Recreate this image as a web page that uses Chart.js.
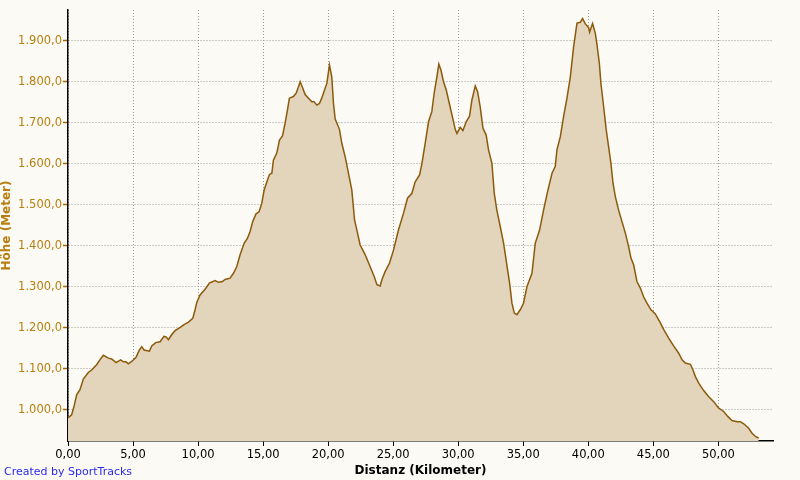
<!DOCTYPE html>
<html lang="de">
<head>
    <meta charset="UTF-8">
    <title>Höhenprofil</title>
    <script src="https://cdn.jsdelivr.net/npm/chart.js"></script>
    <style>
        html, body { margin: 0; padding: 0; background: #fbfaf5; }
        #myChart { display: block; }
    </style>
</head>
<body>
<canvas id="myChart" width="800" height="480"></canvas>
<script>
    // Distanz (km) / Höhe (m)
    const distanz = [
        0.0, 0.28, 0.46, 0.67, 0.92, 1.18, 1.56, 1.82, 2.2, 2.41, 2.72, 3.1, 3.36, 3.69, 4.05, 4.26, 4.46, 4.64, 4.9,
        5.23, 5.49, 5.67, 5.85, 6.26, 6.44, 6.74, 7.08, 7.38, 7.54, 7.72, 7.97, 8.23, 8.62, 8.92, 9.26, 9.59, 9.77, 9.9,
        10.15, 10.54, 10.87, 11.31, 11.56, 11.87, 12.08, 12.46, 12.72, 12.97, 13.23, 13.54, 13.79, 14.0, 14.2, 14.46, 14.69, 14.9,
        15.08, 15.33, 15.49, 15.67, 15.79, 16.05, 16.26, 16.49, 16.69, 16.87, 17.02, 17.33, 17.54, 17.72, 17.85, 18.05, 18.23,
        18.49, 18.74, 18.92, 19.13, 19.33, 19.51, 19.72, 19.9, 20.1, 20.28, 20.41, 20.54, 20.87, 21.05, 21.31, 21.56, 21.82,
        22.03, 22.26, 22.46, 22.85, 23.23, 23.54, 23.75, 24.0, 24.13, 24.38, 24.72, 25.03, 25.41, 25.79, 26.1, 26.44, 26.69,
        27.03, 27.21, 27.46, 27.72, 27.97, 28.15, 28.36, 28.51, 28.67, 28.87, 29.08, 29.26, 29.52, 29.77, 29.9, 30.15, 30.36,
        30.62, 30.87, 31.05, 31.31, 31.49, 31.69, 31.9, 32.15, 32.33, 32.59, 32.77, 32.97, 33.23, 33.49, 33.74, 33.95, 34.13,
        34.31, 34.51, 34.77, 35.02, 35.28, 35.67, 35.92, 36.26, 36.56, 36.87, 37.21, 37.46, 37.59, 37.85, 38.1, 38.36, 38.62,
        38.87, 39.13, 39.38, 39.56, 39.77, 40.03, 40.1, 40.33, 40.54, 40.67, 40.85, 40.97, 41.18, 41.38, 41.56, 41.74, 41.9,
        42.08, 42.33, 42.59, 42.85, 43.1, 43.28, 43.49, 43.74, 44.0, 44.26, 44.51, 44.82, 45.15, 45.49, 45.79, 46.18, 46.56,
        46.95, 47.21, 47.46, 47.85, 48.05, 48.23, 48.49, 48.87, 49.26, 49.64, 50.03, 50.41, 50.72, 51.05, 51.44, 51.69, 51.95,
        52.33, 52.59, 52.85, 53.1
    ];
    const hoehe = [
        980, 988, 1008, 1037, 1049, 1075, 1091, 1097, 1110, 1120, 1133, 1126, 1124, 1115, 1122, 1117, 1117, 1112, 1118,
        1128, 1146, 1154, 1146, 1143, 1156, 1164, 1166, 1179, 1178, 1171, 1183, 1193, 1201, 1208, 1214, 1223, 1244, 1262,
        1280, 1294, 1309, 1315, 1311, 1313, 1318, 1321, 1333, 1349, 1378, 1406, 1418, 1435, 1459, 1478, 1483, 1504,
        1536, 1560, 1574, 1577, 1609, 1626, 1658, 1668, 1699, 1731, 1760, 1764, 1772, 1788, 1800, 1784, 1769,
        1760, 1751, 1751, 1743, 1747, 1760, 1780, 1796, 1841, 1812, 1747, 1709, 1684, 1650, 1617, 1577, 1536,
        1463, 1431, 1402, 1378, 1349, 1325, 1305, 1302, 1317, 1337, 1358, 1390, 1439, 1479, 1516, 1528, 1556,
        1573, 1601, 1650, 1703, 1727, 1772, 1812, 1843, 1829, 1800, 1780, 1755, 1719, 1684, 1674, 1689, 1681,
        1703, 1716, 1755, 1790, 1776, 1739, 1687, 1670, 1634, 1601, 1528, 1487, 1447, 1406, 1353, 1309, 1260,
        1236, 1232, 1244, 1260, 1300, 1333, 1406, 1439, 1487, 1532, 1577, 1593, 1634, 1666, 1715, 1760, 1812,
        1885, 1943, 1945, 1954, 1941, 1932, 1921, 1942, 1918, 1890, 1845, 1796, 1739, 1682, 1642, 1601, 1552,
        1520, 1487, 1459, 1431, 1398, 1370, 1353, 1313, 1297, 1275, 1260, 1244, 1234, 1215, 1196, 1175, 1156,
        1138, 1122, 1114, 1111, 1097, 1081, 1065, 1047, 1032, 1020, 1004, 996, 984, 974, 971, 971, 966,
        955, 943, 935, 931
    ];
    const xTicks = [0, 5, 10, 15, 20, 25, 30, 35, 40, 45, 50];
    const yTicks = [1000, 1100, 1200, 1300, 1400, 1500, 1600, 1700, 1800, 1900];

    const fmtY = (v) => {
        const s = Math.round(v).toString();
        return s.slice(0, s.length - 3) + '.' + s.slice(-3) + ',0';
    };
    const fmtX = (v) => v.toFixed(2).replace('.', ',');

    const creditPlugin = {
        id: 'credit',
        afterDraw(chart) {
            const ctx = chart.ctx;
            ctx.save();
            ctx.font = '11px "DejaVu Sans", sans-serif';
            ctx.fillStyle = '#2a2aee';
            ctx.textBaseline = 'alphabetic';
            ctx.fillText('Created by SportTracks', 4, 475);
            ctx.restore();
        }
    };

    const config = {
        type: 'line',
        data: {
            datasets: [{
                label: 'Höhe',
                data: distanz.map((d, i) => ({x: d, y: hoehe[i]})),
                borderColor: '#8c5a0a',
                backgroundColor: '#e3d4bc',
                borderWidth: 1.5,
                pointRadius: 0,
                tension: 0,
                fill: 'start'
            }]
        },
        options: {
            responsive: false,
            animation: false,
            layout: {padding: {left: 0, right: 27, top: 10, bottom: 0}},
            plugins: {legend: {display: false}, tooltip: {enabled: false}},
            scales: {
                x: {
                    type: 'linear',
                    min: 0,
                    max: 54.2,
                    afterBuildTicks: (scale) => { scale.ticks = xTicks.map(v => ({value: v})); },
                    afterFit: (scale) => { scale.height = 39; },
                    ticks: {
                        callback: (v) => fmtX(v),
                        color: '#000',
                        font: {family: '"DejaVu Sans", sans-serif', size: 11.5},
                        padding: 2,
                        maxRotation: 0
                    },
                    grid: {color: '#9a9a9a', tickColor: '#000', tickLength: 5, tickWidth: 1},
                    border: {color: '#000', width: 1.5, dash: [1, 2]},
                    title: {
                        display: true,
                        text: 'Distanz (Kilometer)',
                        color: '#000',
                        font: {family: '"DejaVu Sans", sans-serif', size: 12, weight: 'bold'},
                        padding: {top: 0, bottom: 2}
                    }
                },
                y: {
                    min: 924,
                    max: 1975,
                    afterBuildTicks: (scale) => { scale.ticks = yTicks.map(v => ({value: v})); },
                    afterFit: (scale) => { scale.width = 68; },
                    ticks: {
                        callback: (v) => fmtY(v),
                        color: '#b87f10',
                        font: {family: '"DejaVu Sans", sans-serif', size: 11.5},
                        padding: 1
                    },
                    grid: {color: '#9a9a9a', tickColor: '#a86a00', tickLength: 5, tickWidth: 1.5},
                    border: {color: '#000', width: 1.5, dash: [1, 2]},
                    title: {
                        display: true,
                        text: 'Höhe (Meter)',
                        color: '#b87f10',
                        font: {family: '"DejaVu Sans", sans-serif', size: 12, weight: 'bold'},
                        padding: {top: 0, bottom: 0}
                    }
                }
            }
        },
        plugins: [creditPlugin]
    };

    const myChart = new Chart(document.getElementById('myChart'), config);
</script>
</body>
</html>
